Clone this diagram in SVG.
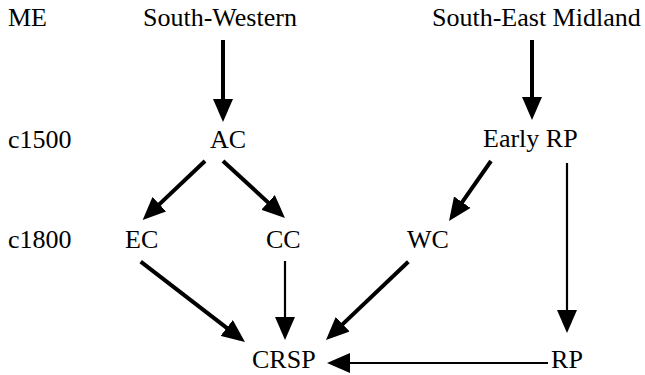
<svg xmlns="http://www.w3.org/2000/svg" width="645" height="375" viewBox="0 0 645 375">
<style>
text{font-family:'Liberation Serif','Times New Roman','DejaVu Serif',serif;font-size:26px;fill:#000}
.e{stroke:#000;fill:none;stroke-width:4;marker-end:url(#ah)}
.t{stroke-width:2.2}
</style>
<defs>
<marker id="ah" markerUnits="userSpaceOnUse" markerWidth="23" markerHeight="20" refX="18" refY="10" orient="auto">
<path d="M0,0 L23,10 L0,20 z" fill="#000"/>
</marker>
</defs>
<rect width="645" height="375" fill="#fff"/>
<g id="labels" font-family="Liberation Serif, serif">
<text x="8" y="26">ME</text>
<text x="8" y="148">c1500</text>
<text x="8" y="248">c1800</text>
</g>
<g id="sw"><text x="143" y="26">South-Western</text></g>
<g id="sem"><text x="432" y="26">South-East Midland</text></g>
<g id="ac"><text x="210" y="148">AC</text></g>
<g id="erp"><text x="483" y="147">Early RP</text></g>
<g id="ec"><text x="125" y="248">EC</text></g>
<g id="cc"><text x="266" y="248">CC</text></g>
<g id="wc"><text x="407" y="248">WC</text></g>
<g id="crsp"><text x="252" y="368">CRSP</text></g>
<g id="rp"><text x="567" y="368" text-anchor="middle">RP</text></g>
<g id="connectors">
<path class="e" d="M223,40 L223,117"/>
<path class="e" d="M532,40 L532,115"/>
<path class="e" d="M205,161 L146.3,216.6"/>
<path class="e" d="M223,161 L281.3,214.6"/>
<path class="e" d="M491,161 L451.9,216.9"/>
<path class="e t" d="M567,163 L567,328"/>
<path class="e" d="M140.7,261.7 L241,338.9"/>
<path class="e t" d="M285,261 L285,335"/>
<path class="e" d="M408.3,261.7 L329.6,336.6"/>
<path class="e t" d="M548,363 L332,363"/>
</g>
</svg>
